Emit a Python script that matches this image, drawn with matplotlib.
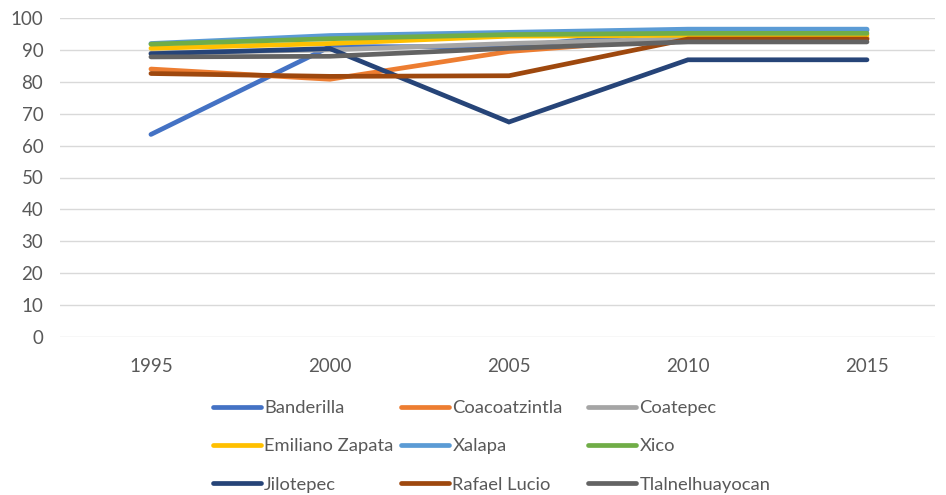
import matplotlib
matplotlib.use("Agg")
import matplotlib.pyplot as plt

years = ["1995", "2000", "2005", "2010", "2015"]

banderilla      = [63.5, 91.0, 91.0, 96.2, 96.2]
coacoatzintla   = [84.0, 80.8, 89.5, 93.8, 93.8]
coatepec        = [89.0, 90.0, 92.0, 93.5, 93.5]
emiliano_zapata = [90.5, 92.0, 94.3, 94.6, 94.6]
xalapa          = [92.0, 94.5, 95.5, 96.5, 96.5]
xico            = [91.8, 93.5, 94.8, 95.2, 95.2]
jilotepec       = [88.8, 90.4, 67.4, 86.9, 86.9]
rafael_lucio    = [82.6, 81.7, 81.9, 93.4, 93.4]
tlalnelhuayocan = [87.8, 88.0, 90.5, 92.5, 92.5]

series_names = ["Banderilla", "Coacoatzintla", "Coatepec", "Emiliano Zapata",
                "Xalapa", "Xico", "Jilotepec", "Rafael Lucio", "Tlalnelhuayocan"]
series_values = [banderilla, coacoatzintla, coatepec, emiliano_zapata,
                 xalapa, xico, jilotepec, rafael_lucio, tlalnelhuayocan]
colors = ["#4472C4", "#ED7D31", "#A5A5A5", "#FFC000", "#5B9BD5",
          "#70AD47", "#264478", "#9E480E", "#636363"]

plt.rcParams["font.family"] = ["Lato", "DejaVu Sans"]
text_color = "#595959"

fig = plt.figure(figsize=(9.46, 4.95), dpi=100)
ax = fig.add_axes([60/946, 1 - 337/495, (935 - 60)/946, (337 - 18)/495])

x = list(range(len(years)))
handles = []
for name, vals, c in zip(series_names, series_values, colors):
    h, = ax.plot(x, vals, color=c, lw=3.4, solid_capstyle="round",
                 solid_joinstyle="miter", label=name)
    handles.append(h)

ax.set_ylim(0, 100)
ax.set_yticks(range(0, 101, 10))
ax.set_xlim(-0.508, 4.38)
ax.set_xticks(x)
ax.set_xticklabels(years)
ax.grid(axis="y", color="#D9D9D9", lw=1.0)
ax.set_axisbelow(True)
for s in ax.spines.values():
    s.set_visible(False)
ax.tick_params(axis="both", length=0, labelsize=13.5, colors=text_color)
ax.tick_params(axis="y", pad=12)
ax.tick_params(axis="x", pad=15)

col_x = [213, 401, 588]
for ci in range(3):
    hs = [handles[ci + 3 * r] for r in range(3)]
    fig.legend(handles=hs, labels=[h.get_label() for h in hs],
               loc="upper left", bbox_to_anchor=(col_x[ci] / 946, 1 - 400/495),
               frameon=False, fontsize=13.2, labelcolor=text_color,
               handlelength=2.6, handletextpad=0.2, labelspacing=1.22,
               borderpad=0, borderaxespad=0)

fig.savefig("out.png", dpi=100)
